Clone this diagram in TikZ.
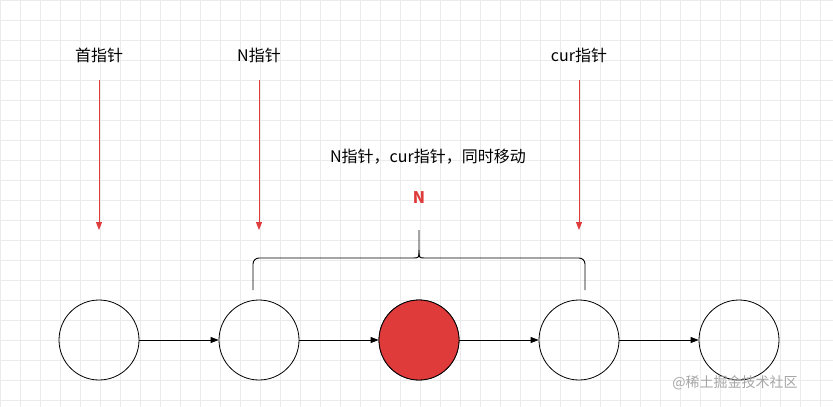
\documentclass[tikz,border=0pt]{standalone}
\usepackage{fontspec}
\setmainfont{Noto Sans CJK SC}
\usetikzlibrary{arrows.meta}
\definecolor{nred}{HTML}{E03B3B}
\definecolor{gridc}{HTML}{EBEBEB}
\begin{document}
\begin{tikzpicture}[x=1pt,y=-1pt,
  nd/.style={circle,draw=black,line width=0.8pt,minimum size=80pt,inner sep=0pt},
  lbl/.style={font=\fontsize{16}{19}\selectfont},
  redarr/.style={color=nred,line width=1pt,-{Triangle[length=8pt,width=6pt]}},
  blkarr/.style={color=black,line width=0.9pt,-{Triangle[length=8pt,width=6pt]}}]
\useasboundingbox (0,0) rectangle (833,407);
\fill[white] (0,0) rectangle (833,407);
\foreach \gx in {0,20,...,820}{\draw[gridc,line width=0.6pt] (\gx,0) -- (\gx,407);}
\foreach \gy in {0,20,...,400}{\draw[gridc,line width=0.6pt] (0,\gy) -- (833,\gy);}
\foreach \i/\x in {1/99,2/259,3/419,4/579,5/739}{
  \node[nd] (c\i) at (\x,340) {};
}
\node[nd,fill=nred] at (c3) {};
\foreach \a/\b in {1/2,2/3,3/4,4/5}{\draw[blkarr] (c\a) -- (c\b);}
\node[lbl] (t1) at (99,55) {首指针};
\node[lbl] (t2) at (259,55) {N指针};
\node[lbl] (t4) at (579,55) {cur指针};
\coordinate (s1) at (99,80);\coordinate (s2) at (259,80);\coordinate (s4) at (579,80);
\coordinate (e1) at (99,230);\coordinate (e2) at (259,230);\coordinate (e4) at (579,230);
\draw[redarr] (s1) -- (e1);
\draw[redarr] (s2) -- (e2);
\draw[redarr] (s4) -- (e4);
\node[lbl] (mv) at (428,157) {N指针，cur指针，同时移动};
\node[text=nred,font=\fontsize{16}{19}\selectfont\bfseries] (nn) at (419,198) {N};
\draw[black,line width=0.9pt,rounded corners=6pt] (253,290) -- (253,258) -- (413,258);
\draw[black,line width=0.9pt] (413,258) .. controls (419,258) .. (419,250) -- (419,230);
\draw[black,line width=0.9pt] (425,258) .. controls (419,258) .. (419,250);
\draw[black,line width=0.9pt,rounded corners=6pt] (425,258) -- (585,258) -- (585,290);
\node[text=gray!70,font=\fontsize{14}{16}\selectfont] (wm) at (735,383) {@稀土掘金技术社区};
\end{tikzpicture}
\end{document}
